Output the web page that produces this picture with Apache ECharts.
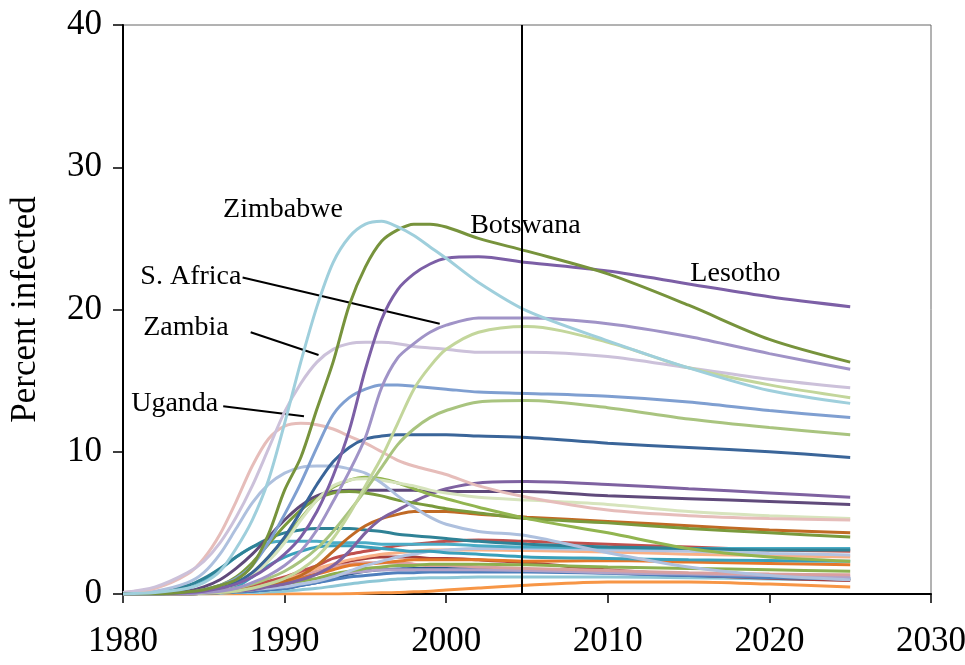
<!DOCTYPE html>
<html>
<head>
<meta charset="utf-8">
<title>Percent infected</title>
<script src="https://cdn.jsdelivr.net/npm/echarts@6/dist/echarts.min.js"></script>
<style>
  html, body { margin: 0; padding: 0; background: #fff; }
  #chart { width: 965px; height: 665px; }
</style>
</head>
<body>
<div id="chart"></div>
<script>
// years the curves are read at (denser where they rise)
var years = [1980, 1982, 1984, 1985, 1986, 1987, 1988, 1989, 1990, 1991, 1992, 1993, 1994,
  1995, 1996, 1997, 1998, 1999, 2000, 2002, 2005, 2010, 2015, 2020, 2025]

// percent infected, one array per country curve
var zimbabwe = [0, 0.1, 0.4, 0.8, 1.6, 3.2, 5.2, 8.0, 12.0, 16.3, 20.2, 23.3, 25.1, 26.0, 26.2, 25.8, 25.2, 24.4, 23.6, 21.9, 19.9, 17.8, 15.9, 14.3, 13.4]
var botswana = [0, 0, 0.15, 0.3, 0.6, 1.0, 2.0, 4.2, 7.3, 9.6, 13.0, 16.3, 20.3, 23.0, 24.8, 25.6, 26.0, 26.0, 25.8, 25.0, 24.1, 22.5, 20.3, 17.9, 16.3]
var lesotho = [0, 0, 0.1, 0.2, 0.4, 0.7, 1.2, 1.9, 2.8, 4.0, 5.8, 8.3, 11.5, 15.8, 19.3, 21.4, 22.5, 23.2, 23.6, 23.7, 23.3, 22.7, 21.8, 20.9, 20.2]
var sAfrica = [0, 0, 0, 0.1, 0.2, 0.4, 0.8, 1.3, 2.0, 3.0, 4.5, 6.5, 8.6, 11.0, 14.5, 16.6, 17.6, 18.4, 18.9, 19.4, 19.4, 19.0, 18.1, 16.9, 15.8]
var greenLight = [0, 0, 0, 0.05, 0.1, 0.2, 0.4, 0.7, 1.1, 1.7, 2.6, 3.9, 5.6, 7.6, 9.6, 12.0, 14.4, 16.0, 17.2, 18.4, 18.8, 17.7, 15.9, 14.7, 13.8]
var zambia = [0.1, 0.5, 1.5, 2.3, 3.6, 5.4, 7.6, 10.2, 12.8, 14.8, 16.3, 17.2, 17.6, 17.7, 17.7, 17.6, 17.4, 17.3, 17.2, 17.0, 17.0, 16.7, 15.9, 15.1, 14.5]
var medBlue = [0, 0, 0.1, 0.3, 0.6, 1.1, 2.0, 3.6, 5.6, 7.8, 10.3, 12.6, 13.8, 14.4, 14.7, 14.7, 14.6, 14.5, 14.4, 14.2, 14.1, 13.9, 13.5, 12.9, 12.4]
var greenMid = [0, 0, 0.05, 0.1, 0.2, 0.4, 0.7, 1.1, 1.6, 2.3, 3.2, 4.4, 5.8, 7.3, 8.9, 10.5, 11.6, 12.4, 12.9, 13.5, 13.6, 13.1, 12.3, 11.7, 11.2]
var darkBlue = [0, 0, 0.1, 0.2, 0.4, 0.8, 1.5, 2.6, 4.0, 5.8, 7.7, 9.3, 10.3, 10.9, 11.1, 11.2, 11.2, 11.2, 11.2, 11.1, 11.0, 10.6, 10.3, 10.0, 9.6]
var uganda = [0.1, 0.4, 1.4, 2.5, 4.2, 6.5, 9.0, 10.9, 11.8, 12.0, 11.9, 11.6, 11.1, 10.6, 10.0, 9.4, 9.0, 8.7, 8.4, 7.6, 6.8, 5.9, 5.5, 5.3, 5.2]
var grayBlue = [0.05, 0.2, 0.8, 1.5, 2.8, 4.6, 6.4, 7.7, 8.5, 8.9, 9.0, 9.0, 8.8, 8.5, 7.8, 6.9, 6.1, 5.4, 4.9, 4.4, 4.1, 2.9, 1.9, 1.3, 1.0]
var greenPale = [0, 0, 0.1, 0.2, 0.4, 0.7, 1.3, 2.3, 3.6, 5.2, 6.6, 7.6, 8.0, 8.1, 8.0, 7.8, 7.6, 7.3, 7.1, 6.8, 6.6, 6.3, 5.8, 5.5, 5.3]
var greenBright = [0, 0, 0.1, 0.2, 0.4, 0.8, 1.5, 2.6, 3.9, 5.3, 6.6, 7.5, 8.0, 8.2, 8.1, 7.8, 7.4, 7.0, 6.7, 6.1, 5.3, 4.3, 3.2, 2.6, 2.3]
var olive = [0, 0, 0.1, 0.3, 0.6, 1.2, 2.2, 3.5, 4.8, 5.9, 6.7, 7.1, 7.2, 7.1, 6.9, 6.6, 6.4, 6.2, 6.0, 5.7, 5.3, 5.0, 4.6, 4.3, 4.0]
var darkPurple = [0, 0, 0.2, 0.5, 1.0, 1.8, 2.8, 4.0, 5.2, 6.2, 6.9, 7.2, 7.3, 7.3, 7.3, 7.3, 7.3, 7.2, 7.2, 7.2, 7.2, 6.9, 6.7, 6.5, 6.3]
var purple = [0, 0, 0, 0.05, 0.1, 0.2, 0.3, 0.5, 0.7, 1.0, 1.4, 2.0, 3.0, 4.3, 5.3, 5.9, 6.5, 7.0, 7.4, 7.8, 7.9, 7.7, 7.4, 7.1, 6.8]
var brown = [0, 0, 0, 0.05, 0.1, 0.2, 0.4, 0.6, 0.9, 1.3, 2.0, 3.0, 4.0, 4.8, 5.3, 5.6, 5.8, 5.8, 5.8, 5.6, 5.4, 5.1, 4.8, 4.5, 4.3]
var tealDark = [0, 0.1, 0.6, 1.1, 1.8, 2.6, 3.3, 3.9, 4.3, 4.5, 4.6, 4.6, 4.6, 4.5, 4.4, 4.2, 4.1, 4.0, 3.9, 3.7, 3.5, 3.3, 3.2, 3.1, 3.1]
var tealMid = [0, 0.05, 0.4, 0.9, 1.7, 2.6, 3.3, 3.6, 3.7, 3.7, 3.7, 3.6, 3.6, 3.6, 3.5, 3.5, 3.5, 3.5, 3.5, 3.4, 3.3, 3.25, 3.2, 3.2, 3.2]
var tealBright = [0, 0, 0.05, 0.1, 0.2, 0.5, 1.2, 2.0, 2.6, 3.0, 3.3, 3.4, 3.4, 3.3, 3.2, 3.1, 3.0, 3.0, 2.9, 2.8, 2.6, 2.5, 2.4, 2.35, 2.3]
var red = [0, 0, 0.05, 0.1, 0.2, 0.4, 0.6, 0.9, 1.2, 1.6, 2.0, 2.5, 2.8, 3.0, 3.2, 3.4, 3.5, 3.6, 3.7, 3.8, 3.7, 3.5, 3.3, 3.1, 3.0]
var salmon = [0, 0, 0.05, 0.1, 0.2, 0.3, 0.5, 0.8, 1.1, 1.4, 1.8, 2.1, 2.4, 2.6, 2.8, 2.9, 3.0, 3.1, 3.1, 3.1, 3.05, 2.95, 2.8, 2.7, 2.6]
var grayBlue2 = [0, 0, 0.05, 0.1, 0.15, 0.2, 0.3, 0.4, 0.5, 0.7, 0.9, 1.2, 1.6, 2.0, 2.3, 2.6, 2.8, 3.0, 3.1, 3.2, 3.2, 3.1, 3.0, 2.85, 2.75]
var orange = [0, 0, 0.05, 0.1, 0.2, 0.3, 0.5, 0.6, 0.8, 1.1, 1.4, 1.7, 2.0, 2.1, 2.2, 2.3, 2.4, 2.4, 2.4, 2.4, 2.3, 2.35, 2.25, 2.15, 2.05]
var green2 = [0, 0, 0, 0.05, 0.1, 0.2, 0.3, 0.5, 0.7, 0.9, 1.1, 1.4, 1.6, 1.8, 1.9, 2.0, 2.0, 2.1, 2.1, 2.1, 2.05, 1.9, 1.8, 1.7, 1.6]
var pink = [0, 0, 0.05, 0.1, 0.2, 0.3, 0.5, 0.7, 1.0, 1.3, 1.6, 1.9, 2.1, 2.2, 2.2, 2.2, 2.1, 2.0, 2.0, 1.9, 1.8, 1.65, 1.5, 1.4, 1.35]
var lavender = [0, 0, 0.05, 0.1, 0.15, 0.2, 0.3, 0.5, 0.7, 0.9, 1.1, 1.3, 1.5, 1.6, 1.7, 1.7, 1.7, 1.7, 1.7, 1.7, 1.65, 1.5, 1.4, 1.3, 1.2]
var blue = [0, 0, 0, 0.05, 0.1, 0.15, 0.2, 0.3, 0.4, 0.6, 0.8, 1.0, 1.2, 1.3, 1.4, 1.5, 1.5, 1.55, 1.55, 1.55, 1.55, 1.45, 1.3, 1.15, 1.05]
var darkRed = [0, 0, 0, 0.05, 0.1, 0.2, 0.3, 0.5, 0.8, 1.1, 1.5, 1.9, 2.3, 2.5, 2.6, 2.6, 2.6, 2.5, 2.5, 2.4, 2.2, 1.7, 1.35, 1.1, 0.95]
var navy = [0, 0, 0, 0.05, 0.1, 0.15, 0.2, 0.3, 0.4, 0.6, 0.8, 1.1, 1.4, 1.6, 1.7, 1.75, 1.8, 1.8, 1.8, 1.75, 1.7, 1.5, 1.3, 1.2, 1.1]
var lightBlue = [0, 0, 0, 0, 0.05, 0.1, 0.1, 0.15, 0.2, 0.3, 0.4, 0.55, 0.7, 0.85, 0.95, 1.05, 1.1, 1.15, 1.15, 1.2, 1.2, 1.2, 1.15, 1.05, 1.0]
var orangeLow = [0, 0, 0, 0, 0, 0, 0, 0, 0, 0, 0, 0, 0.02, 0.05, 0.08, 0.1, 0.15, 0.2, 0.28, 0.42, 0.62, 0.85, 0.85, 0.7, 0.5]

// name labels and leader lines, in [year, percent]
var labelNames = ['Zimbabwe', 'Botswana', 'S. Africa', 'Zambia', 'Uganda', 'Lesotho']
var labelPos = [[1989.9, 27.0], [2004.9, 25.9], [1984.2, 22.3], [1983.9, 18.7], [1983.2, 13.4], [2017.9, 22.5]]
var leaders = [
  [[1987.4, 22.25], [1999.6, 19.0]],
  [[1987.9, 18.4], [1992.1, 16.8]],
  [[1986.2, 13.2], [1991.2, 12.5]]
]
var markYear = 2004.7

var curves = [
  ['orangeLow', orangeLow, '#f79646'],
  ['lightBlue', lightBlue, '#8ec7d6'],
  ['navy', navy, '#2c5a8f'],
  ['darkRed', darkRed, '#a83e3b'],
  ['blue', blue, '#4f7fbd'],
  ['lavender', lavender, '#b3a2c7'],
  ['pink', pink, '#d9a0a0'],
  ['green2', green2, '#8db050'],
  ['orange', orange, '#e4782a'],
  ['salmon', salmon, '#f9b086'],
  ['grayBlue2', grayBlue2, '#b3c3e1'],
  ['red', red, '#c0504d'],
  ['tealBright', tealBright, '#3aa0bb'],
  ['tealMid', tealMid, '#4bacc6'],
  ['tealDark', tealDark, '#2f8296'],
  ['brown', brown, '#c06a25'],
  ['purple', purple, '#7f62a1'],
  ['darkPurple', darkPurple, '#604a7b'],
  ['olive', olive, '#7a9a3c'],
  ['greenBright', greenBright, '#92b550'],
  ['greenPale', greenPale, '#d7e4bd'],
  ['grayBlue', grayBlue, '#aec0de'],
  ['uganda', uganda, '#e6bdba'],
  ['darkBlue', darkBlue, '#3a6599'],
  ['greenMid', greenMid, '#a9c47f'],
  ['medBlue', medBlue, '#7f9fd1'],
  ['zambia', zambia, '#ccc1da'],
  ['greenLight', greenLight, '#c3d69b'],
  ['sAfrica', sAfrica, '#a093c7'],
  ['lesotho', lesotho, '#7c5fa6'],
  ['botswana', botswana, '#77933c'],
  ['zimbabwe', zimbabwe, '#9fcfdc']
]

var font = 'Liberation Serif, Times New Roman, serif'

var series = curves.map(function (c) {
  return {
    name: c[0],
    type: 'line',
    smooth: 0.3,
    showSymbol: false,
    silent: true,
    lineStyle: { width: 3, color: c[2] },
    data: years.map(function (y, i) { return [y, c[1][i]] })
  }
})

series.push({
  name: 'leaders',
  type: 'lines',
  coordinateSystem: 'cartesian2d',
  silent: true,
  lineStyle: { color: '#000', width: 2, opacity: 1 },
  data: leaders.map(function (l) { return { coords: l } })
})

series.push({
  name: 'labels',
  type: 'scatter',
  symbolSize: 0,
  silent: true,
  itemStyle: { opacity: 1 },
  label: {
    show: true,
    position: 'inside',
    color: '#000',
    opacity: 1,
    fontFamily: font,
    fontSize: 28,
    formatter: function (p) { return labelNames[p.dataIndex] }
  },
  markLine: {
    silent: true,
    symbol: ['none', 'none'],
    label: { show: false },
    lineStyle: { color: '#000', width: 2, type: 'solid' },
    data: [{ xAxis: markYear }]
  },
  data: labelPos
})

var chart = echarts.init(document.getElementById('chart'))
chart.setOption({
  animation: false,
  grid: {
    left: 123, right: 34, top: 25, bottom: 71,
    outerBoundsMode: 'none',
    containLabel: false,
    show: true, borderColor: '#666', borderWidth: 1
  },
  xAxis: {
    type: 'value',
    min: 1980, max: 2030, interval: 10,
    axisLine: { lineStyle: { color: '#000', width: 2 } },
    axisTick: { length: 9, lineStyle: { color: '#000', width: 1.5 } },
    axisLabel: {
      color: '#000', fontFamily: font, fontSize: 35, margin: 30,
      formatter: function (v) { return String(v) }
    },
    splitLine: { show: false }
  },
  yAxis: {
    type: 'value',
    min: 0, max: 40, interval: 10,
    name: 'Percent infected',
    nameLocation: 'middle',
    nameGap: 80,
    nameTextStyle: { color: '#000', fontFamily: font, fontSize: 35 },
    axisLine: { show: true, lineStyle: { color: '#000', width: 2 } },
    axisTick: { show: true, length: 10, lineStyle: { color: '#000', width: 1.5 } },
    axisLabel: { color: '#000', fontFamily: font, fontSize: 35, margin: 21 },
    splitLine: { show: false }
  },
  series: series
})
</script>
</body>
</html>
